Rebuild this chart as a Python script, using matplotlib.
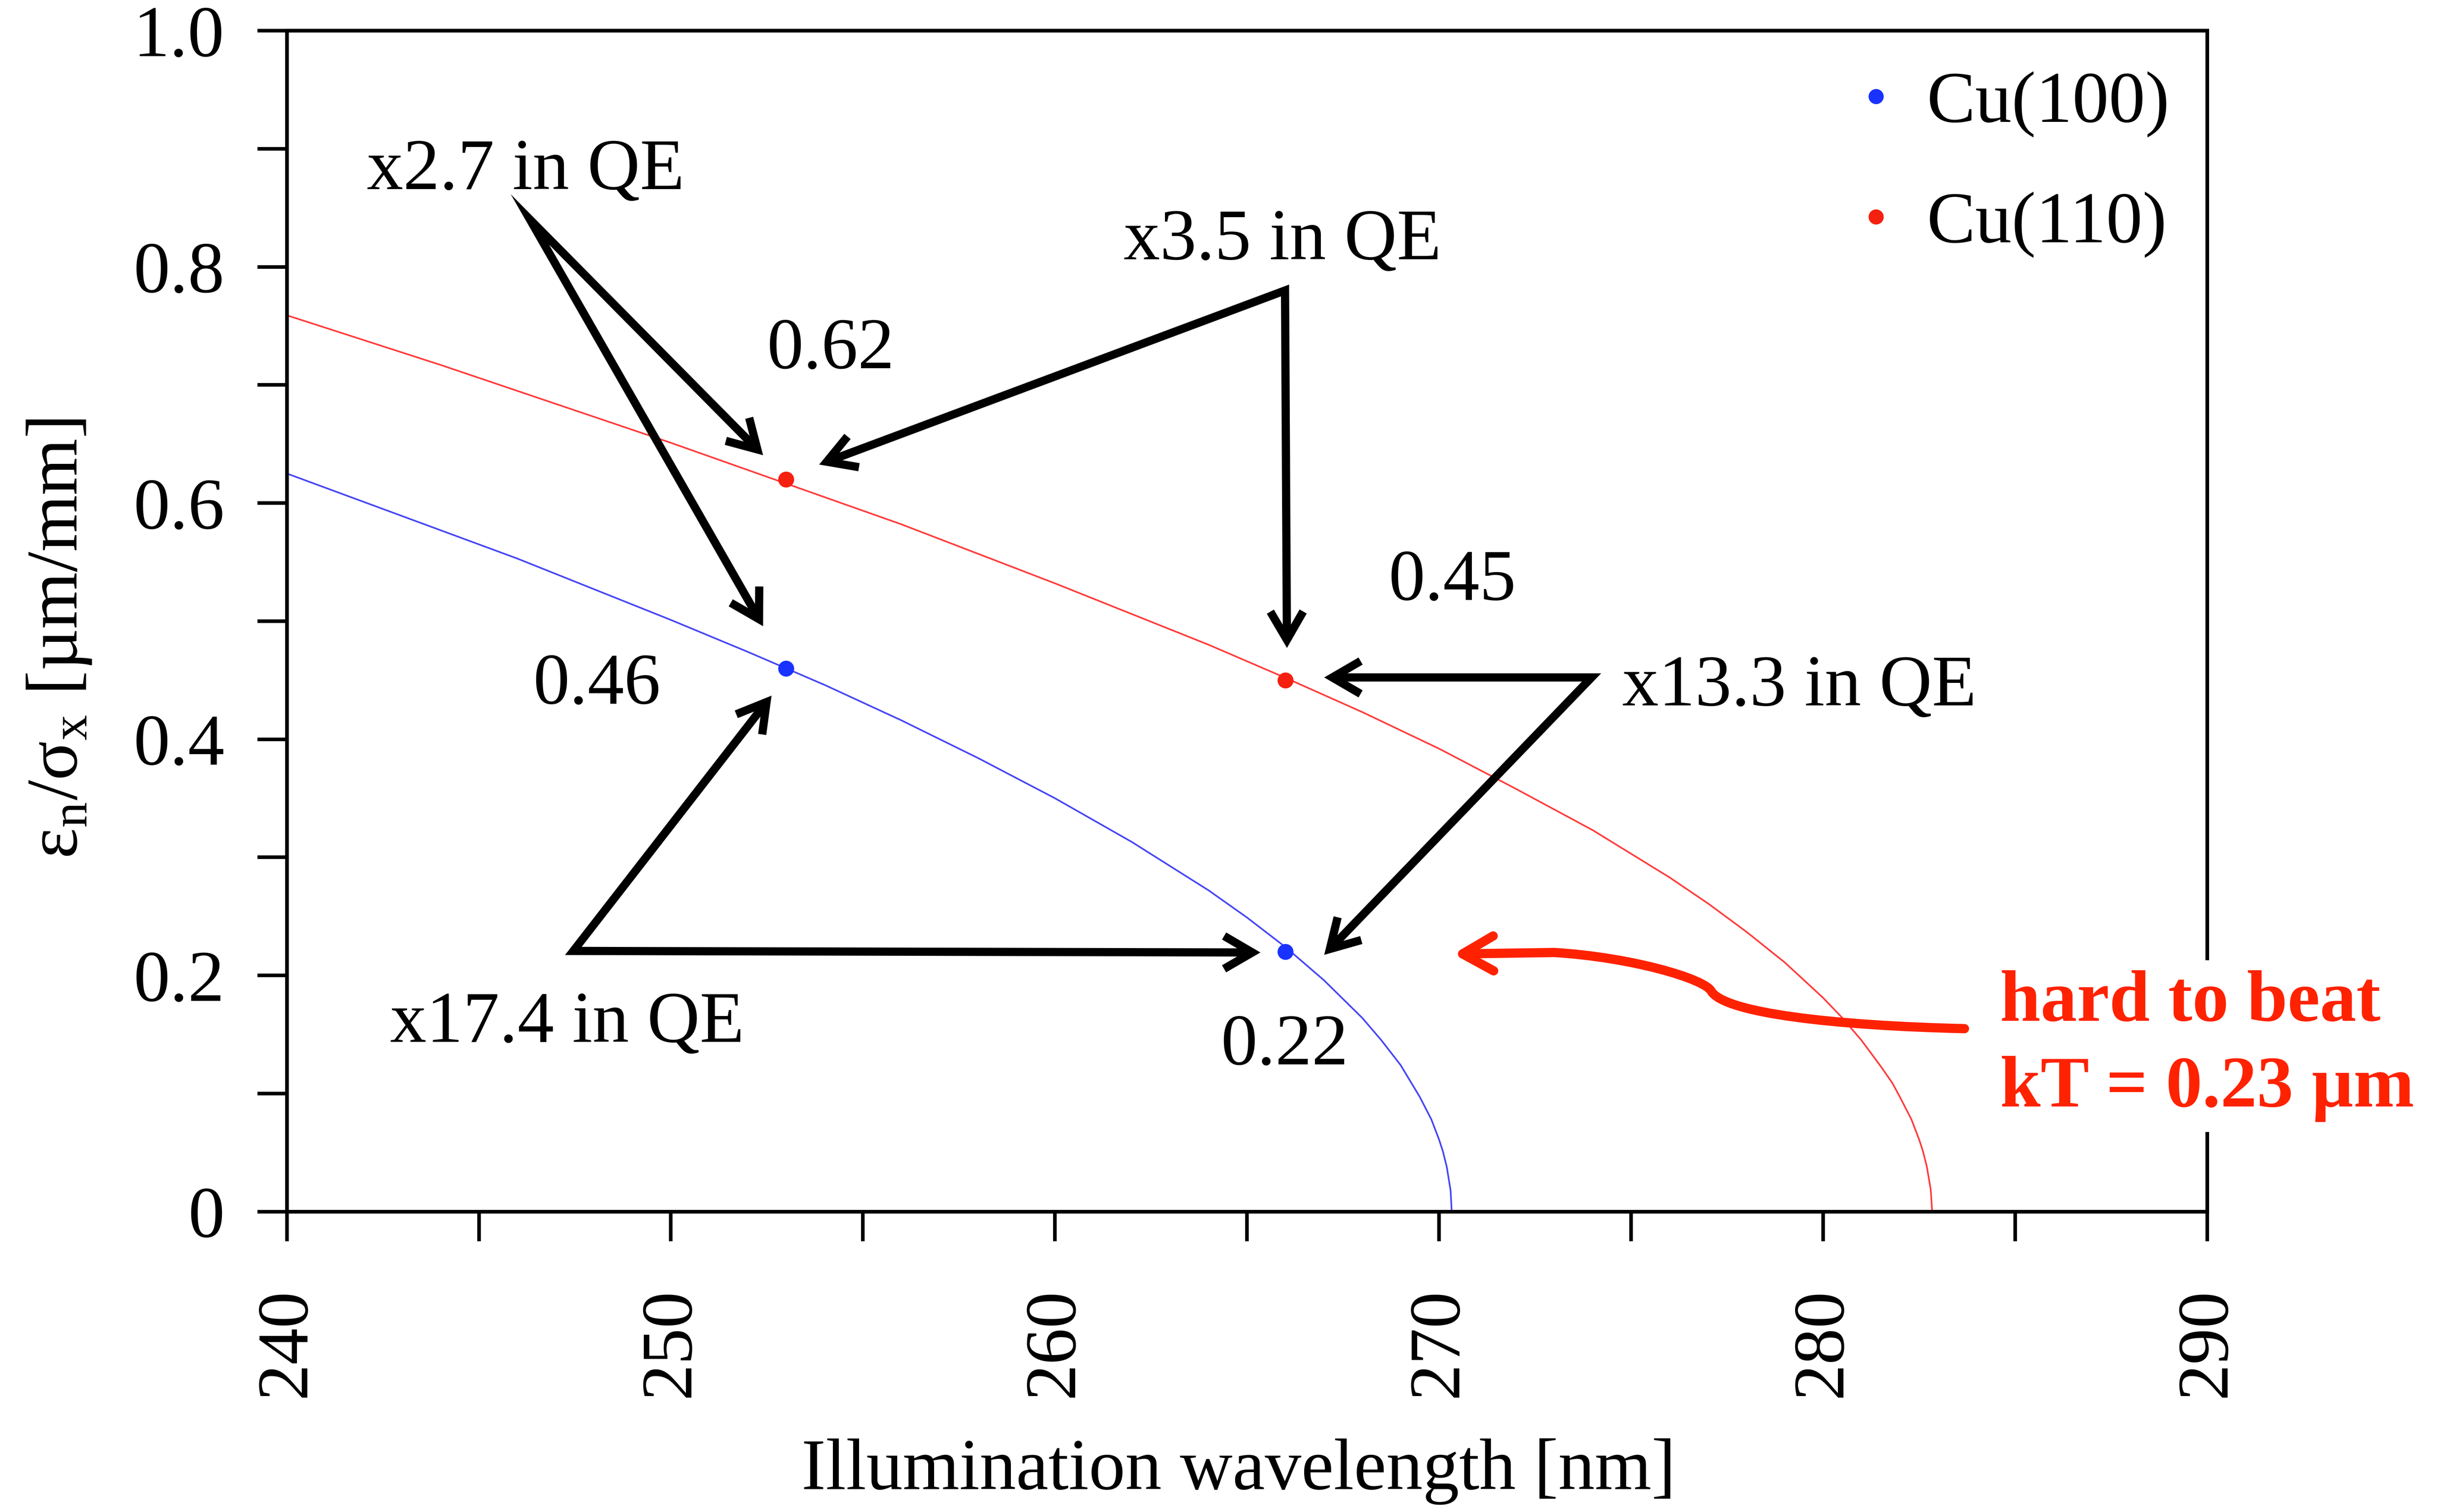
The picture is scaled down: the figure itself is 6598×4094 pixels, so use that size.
import matplotlib
matplotlib.use("Agg")
import matplotlib.pyplot as plt
from matplotlib.patches import FancyArrowPatch
from matplotlib.path import Path

plt.rcParams['font.family'] = ['Liberation Serif', 'DejaVu Serif']
plt.rcParams['mathtext.fontset'] = 'custom'
plt.rcParams['mathtext.rm'] = 'Liberation Serif'
plt.rcParams['mathtext.it'] = 'Liberation Serif:italic'

# ---- data -------------------------------------------------------------
wl_100 = [240, 242, 244, 246, 248, 250, 252, 254, 256, 258, 260, 262, 264,
          265, 266, 267, 268, 268.5, 269, 269.5, 269.8, 270, 270.1, 270.2,
          270.3, 270.33]
eps_100 = [0.625, 0.601, 0.577, 0.553, 0.527, 0.501, 0.474, 0.446, 0.416,
           0.384, 0.350, 0.313, 0.272, 0.249, 0.224, 0.196, 0.164, 0.145,
           0.124, 0.097, 0.078, 0.061, 0.051, 0.038, 0.018, 0.0]

wl_110 = [240, 242, 244, 246, 248, 250, 252, 254, 256, 258, 260, 262, 264,
          266, 268, 270, 272, 274, 276, 277, 278, 279, 280, 280.5, 281,
          281.5, 281.8, 282, 282.3, 282.5, 282.6, 282.7, 282.8, 282.84]
eps_110 = [0.759, 0.738, 0.717, 0.695, 0.673, 0.651, 0.628, 0.605, 0.582,
           0.557, 0.532, 0.506, 0.480, 0.452, 0.423, 0.392, 0.358, 0.323,
           0.283, 0.261, 0.237, 0.211, 0.181, 0.164, 0.145, 0.123, 0.109,
           0.097, 0.078, 0.061, 0.051, 0.038, 0.019, 0.0]

laser_wl = [253, 266]
pts_100 = [0.46, 0.22]
pts_110 = [0.62, 0.45]

series_labels = ['Cu(100)', 'Cu(110)']
xticks = [240, 250, 260, 270, 280, 290]
xminor = [245, 255, 265, 275, 285]
yticks = [0, 0.2, 0.4, 0.6, 0.8, 1.0]
ytick_labels = ['0', '0.2', '0.4', '0.6', '0.8', '1.0']
yminor = [0.1, 0.3, 0.5, 0.7, 0.9]

FS = 142
BLUE_LINE, RED_LINE = '#4646f5', '#ff3c3c'
BLUE_DOT, RED_DOT = '#1a32ff', '#f52010'
HOT_RED = '#ff2200'

fig = plt.figure(figsize=(65.98, 40.94), dpi=100)
ax = fig.add_axes([0.1177, 0.1987, 0.7880, 0.7810])

ax.plot(wl_100, eps_100, color=BLUE_LINE, lw=3.2, zorder=2)
ax.plot(wl_110, eps_110, color=RED_LINE, lw=3.2, zorder=2)
ax.plot(laser_wl, pts_100, 'o', ms=31, color=BLUE_DOT, mec='none',
        label=series_labels[0], zorder=4)
ax.plot(laser_wl, pts_110, 'o', ms=31, color=RED_DOT, mec='none',
        label=series_labels[1], zorder=4)

ax.set_xlim(240, 290)
ax.set_ylim(0, 1.0)
ax.set_xticks(xticks)
ax.set_xticks(xminor, minor=True)
ax.set_yticks(yticks)
ax.set_yticklabels(ytick_labels)
ax.set_yticks(yminor, minor=True)
ax.tick_params(which='both', direction='out', length=57.6, width=7,
               top=False, right=False)
ax.tick_params(axis='x', which='major', labelsize=FS, labelrotation=90, pad=92)
ax.tick_params(axis='y', which='major', labelsize=FS, pad=64)
for sp in ax.spines.values():
    sp.set_linewidth(7.2)

ax.set_xlabel('Illumination wavelength [nm]', fontsize=FS)
ax.xaxis.label.set_va('center')
ax.xaxis.set_label_coords(0.4957, -0.2203)
ax.set_ylabel(r'ε$_{\mathrm{n}}$/σ$_{\mathrm{x}}$ [µm/mm]', fontsize=FS)
ax.yaxis.label.set_va('center')
ax.yaxis.set_label_coords(-0.1186, 0.485)

leg = ax.legend(loc='upper right', bbox_to_anchor=(0.9805, 0.966),
                frameon=False, fontsize=FS, numpoints=1, markerscale=0.95,
                handlelength=0.5, handletextpad=0.45, labelspacing=0.74,
                borderpad=0, borderaxespad=0)

# ---- value labels and QE-ratio annotations ------------------------------
texts = [
    ('x2.7 in QE', 242.08, 0.8659),
    ('x3.5 in QE', 261.79, 0.8063),
    ('0.62', 252.50, 0.7142),
    ('0.45', 268.69, 0.5181),
    ('x13.3 in QE', 274.77, 0.4286),
    ('0.46', 246.41, 0.4303),
    ('x17.4 in QE', 242.69, 0.1438),
    ('0.22', 264.32, 0.1246),
]
for s, x, y in texts:
    ax.text(x, y, s, fontsize=FS, ha='left', va='baseline', zorder=5)

# pairs of arrows sharing a common origin: (tip1, origin, tip2)
arrow_pairs = [
    ((252.40, 0.6405), (246.33, 0.8401), (252.40, 0.4957)),
    ((253.86, 0.6326), (265.99, 0.7800), (266.04, 0.4773)),
    ((267.01, 0.4523), (273.97, 0.4523), (267.01, 0.2174)),
    ((252.62, 0.4369), (247.46, 0.2207), (265.35, 0.2194)),
]
for a, o, b in arrow_pairs:
    p = FancyArrowPatch(path=Path([a, o, b]),
                        arrowstyle='<->,head_length=0.55,head_width=0.32',
                        mutation_scale=100, lw=16, color='black',
                        joinstyle='miter', capstyle='butt',
                        transform=ax.transData, zorder=5)
    ax.add_patch(p)

# curved red pointer toward the thermal limit
red_path = Path(
    [(283.68, 0.1549), (280.28, 0.1575), (277.45, 0.1681), (277.09, 0.1865),
     (276.93, 0.1970), (275.02, 0.2154), (273.00, 0.2194), (270.37, 0.2181)],
    [Path.MOVETO, Path.CURVE4, Path.CURVE4, Path.CURVE4,
     Path.CURVE4, Path.CURVE4, Path.CURVE4, Path.LINETO])
rp = FancyArrowPatch(path=red_path,
                     arrowstyle='->,head_length=0.6,head_width=0.34',
                     mutation_scale=100, lw=18, color=HOT_RED,
                     transform=ax.transData, zorder=5)
ax.add_patch(rp)

ax.text(284.61, 0.1615, 'hard to beat', fontsize=FS, fontweight='bold',
        color=HOT_RED, ha='left', va='baseline', zorder=6, clip_on=False,
        bbox=dict(facecolor='white', edgecolor='none', pad=20))
ax.text(284.61, 0.0891, 'kT = 0.23 µm', fontsize=FS, fontweight='bold',
        color=HOT_RED, ha='left', va='baseline', zorder=6, clip_on=False,
        bbox=dict(facecolor='white', edgecolor='none', pad=20))

fig.savefig('out.png', dpi=100, facecolor='white')
